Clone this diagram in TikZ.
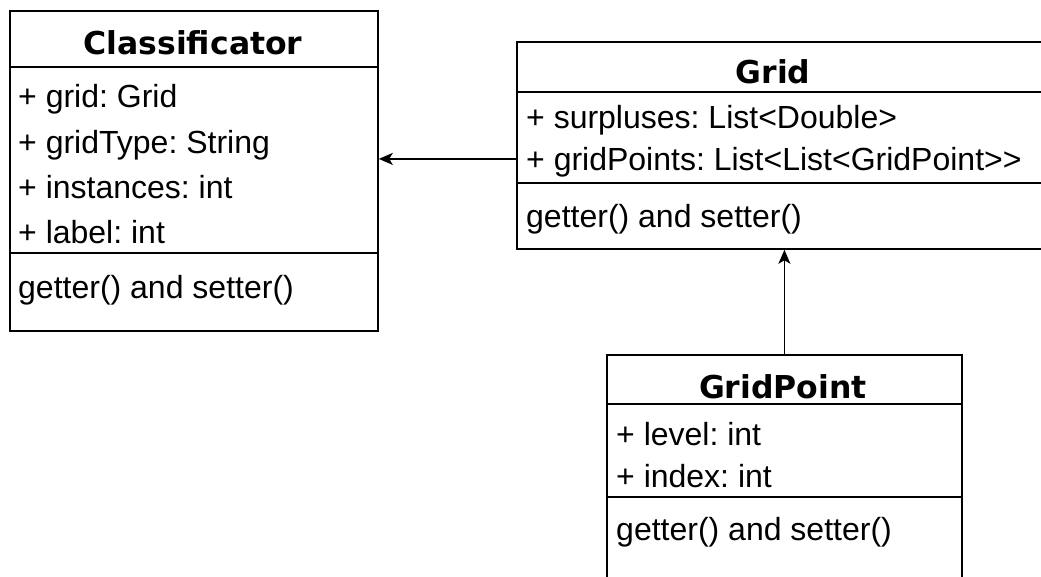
\documentclass[tikz,border=0pt]{standalone}
\usepackage{fontspec}
\setmainfont{Liberation Sans}
\newfontfamily\titlefont{DejaVu Sans}
\usetikzlibrary{arrows.meta}
\begin{document}
\frenchspacing
\begin{tikzpicture}[x=1pt,y=-1pt,
  box/.style={draw, line width=1.8pt, rectangle, anchor=north west, inner sep=0pt},
  ttl/.style={font=\titlefont\bfseries\fontsize{31.5}{36}\selectfont, anchor=base, inner sep=0pt},
  txt/.style={font=\fontsize{32}{36}\selectfont\frenchspacing, anchor=base west, inner sep=0pt},
  sep/.style={line width=1.8pt},
  arr/.style={line width=1.6pt, -{Stealth[length=14pt,width=12pt,inset=3.5pt]}}]
\useasboundingbox (0,0) rectangle (1041,576);
\clip (0,0) rectangle (1041,576);
\fill[white] (0,0) rectangle (1041,576);

% Classificator
\node[box, minimum width=368pt, minimum height=320pt] (classif) at (9,10) {};
\draw[sep] (classif.west |- 0,67) -- (classif.east |- 0,67);
\draw[sep] (classif.west |- 0,253) -- (classif.east |- 0,253);
\node[ttl] (classifT) at (193,54) {Classificator};
\node[txt] (c1) at (18,107) {+ grid: Grid};
\node[txt] (c2) at (18,153) {+ gridType: String};
\node[txt] (c3) at (18,198) {+ instances: int};
\node[txt] (c4) at (18,243) {+ label: int};
\node[txt] (c5) at (18,298) {getter() and setter()};

% Grid
\node[box, minimum width=534pt, minimum height=207pt] (grid) at (516,41) {};
\draw[sep] (grid.west |- 0,92) -- (grid.east |- 0,92);
\draw[sep] (grid.west |- 0,183) -- (grid.east |- 0,183);
\node[ttl] (gridT) at (773,83) {Grid};
\node[txt] (g1) at (526,128) {+ surpluses: List<Double>};
\node[txt] (g2) at (526,170) {+ gridPoints: List<List<GridPoint>{}>};
\node[txt] (g3) at (526,227) {getter() and setter()};

% GridPoint
\node[box, minimum width=355pt, minimum height=240pt] (gp) at (606,354) {};
\draw[sep] (gp.west |- 0,404) -- (gp.east |- 0,404);
\draw[sep] (gp.west |- 0,497) -- (gp.east |- 0,497);
\node[ttl] (gpT) at (783,398) {GridPoint};
\node[txt] (p1) at (616,445) {+ level: int};
\node[txt] (p2) at (616,487) {+ index: int};
\node[txt] (p3) at (616,540) {getter() and setter()};

% connectors
\draw[arr] ([yshift=-13.5pt]grid.west) -- ([yshift=-13.5pt]grid.west -| classif.east);
\draw[arr] (gp.north) -- (gp.north |- grid.south);
\end{tikzpicture}
\end{document}
